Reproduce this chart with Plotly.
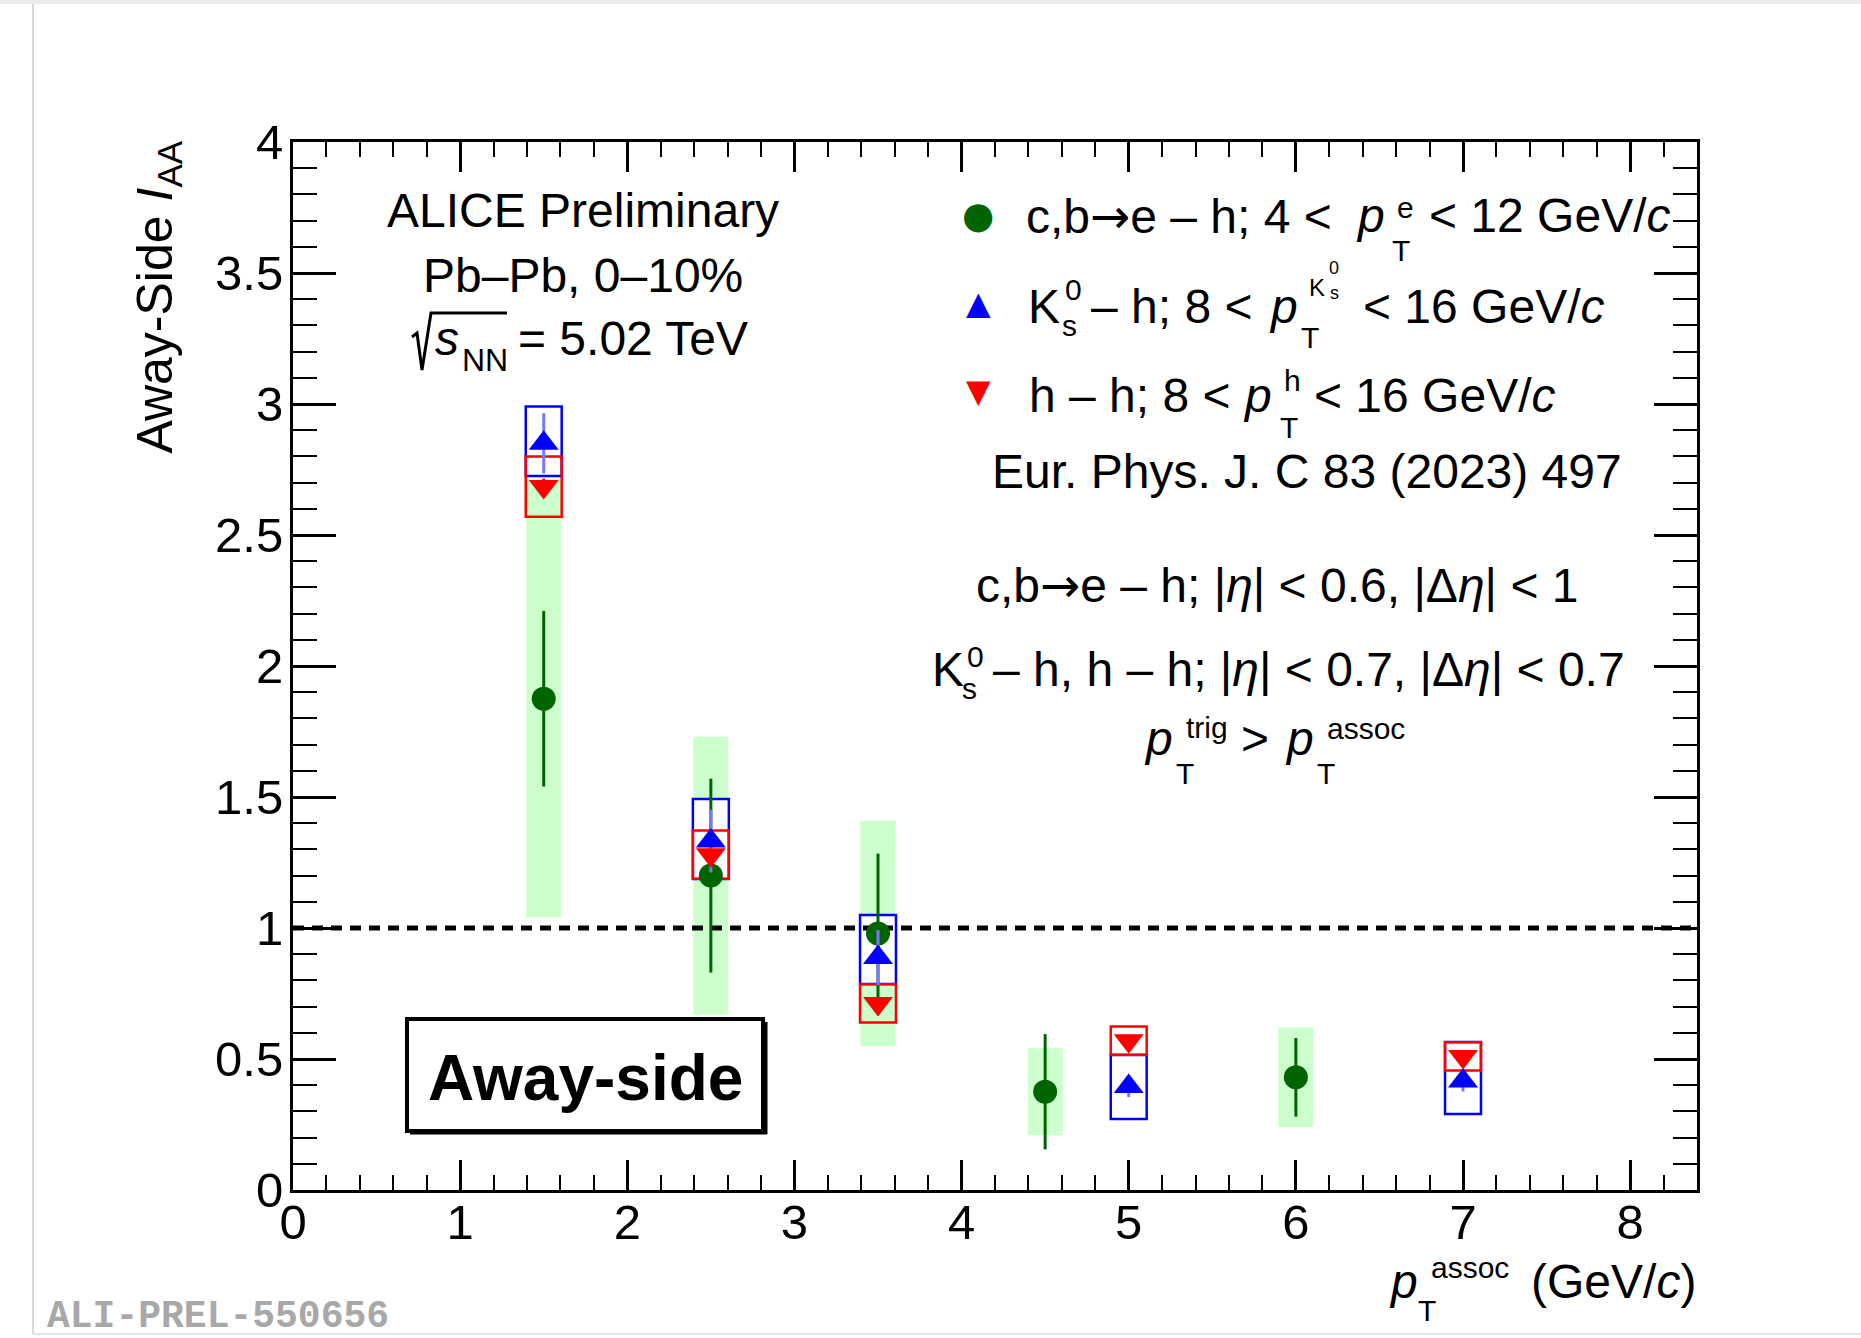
import plotly.graph_objects as go

# ---------------- data ----------------
# c,b -> e - h (heavy-flavour electrons)
x_ehf = [1.5, 2.5, 3.5, 4.5, 6.0]
y_ehf = [1.875, 1.20, 0.979, 0.375, 0.43]
stat_ehf = [0.335, 0.37, 0.305, 0.22, 0.15]
sys_ehf = [0.835, 0.53, 0.43, 0.166, 0.19]

# K0s - h
x_k0s = [1.5, 2.5, 3.5, 5.0, 7.0]
y_k0s = [2.85, 1.332, 0.887, 0.395, 0.416]
stat_k0s = [0.115, 0.12, 0.105, 0.04, 0.04]
sys_k0s_hi = [0.14, 0.16, 0.163, 0.12, 0.149]
sys_k0s_lo = [0.125, 0.145, 0.101, 0.124, 0.126]

# h - h
x_hh = [1.5, 2.5, 3.5, 5.0, 7.0]
y_hh = [2.685, 1.28, 0.712, 0.57, 0.51]
stat_hh = [0.03, 0.02, 0.02, 0.02, 0.02]
sys_hh = [0.115, 0.092, 0.073, 0.054, 0.054]

x_ticks = [0, 1, 2, 3, 4, 5, 6, 7, 8]
y_ticks = [0, 0.5, 1, 1.5, 2, 2.5, 3, 3.5, 4]
ref_line_x = [0, 8.4]
ref_line_y = [1, 1]

# ---------------- styling ----------------
FONT = "Liberation Sans, Arial, Helvetica, sans-serif"
GREEN = "#006400"
GREEN_BAND = "#ccffcc"
BLUE = "#0000ff"
RED = "#ff0000"
ARROW = '<span style="font-family:DejaVu Sans">→</span>'

W, H = 1861, 1338
L, R, T, B = 293, 1697, 142, 1190


def px(X):
    return (X - L) / (R - L)


def py(Y):
    return (B - Y) / (B - T)


fig = go.Figure()

# systematic boxes
fig.add_trace(go.Bar(
    x=x_ehf, y=[2 * s for s in sys_ehf], base=[v - s for v, s in zip(y_ehf, sys_ehf)],
    width=0.21, marker=dict(color=GREEN_BAND, line=dict(width=0)), showlegend=False, hoverinfo="skip"))
fig.add_trace(go.Bar(
    x=x_k0s, y=[h + l for h, l in zip(sys_k0s_hi, sys_k0s_lo)],
    base=[v - l for v, l in zip(y_k0s, sys_k0s_lo)],
    width=0.215, marker=dict(color="white", line=dict(color=BLUE, width=2.5)), showlegend=False, hoverinfo="skip"))
fig.add_trace(go.Bar(
    x=x_hh, y=[2 * s for s in sys_hh], base=[v - s for v, s in zip(y_hh, sys_hh)],
    width=0.215, marker=dict(color="rgba(0,0,0,0)", line=dict(color=RED, width=2.5)), showlegend=False, hoverinfo="skip"))

# reference line at 1
fig.add_trace(go.Scatter(x=ref_line_x, y=ref_line_y, mode="lines",
                         line=dict(color="black", width=5, dash="11px,8px"), showlegend=False, hoverinfo="skip"))

# points with stat errors
fig.add_trace(go.Scatter(
    x=x_ehf, y=y_ehf, mode="markers",
    marker=dict(symbol="circle", size=24, color=GREEN, line=dict(width=0)),
    error_y=dict(type="data", array=stat_ehf, color=GREEN, thickness=3, width=0), showlegend=False))
fig.add_trace(go.Scatter(
    x=x_k0s, y=y_k0s, mode="markers",
    marker=dict(symbol="triangle-up", size=26, color=BLUE, line=dict(width=0)),
    error_y=dict(type="data", array=stat_k0s, color="#7878ff", thickness=3, width=0), showlegend=False))
fig.add_trace(go.Scatter(
    x=x_hh, y=y_hh, mode="markers",
    marker=dict(symbol="triangle-down", size=26, color=RED, line=dict(width=0)),
    error_y=dict(type="data", array=stat_hh, color=RED, thickness=3, width=0), showlegend=False))

ann = []


def txt(s, X, Y, size=48, anchor="left", color="black", family=FONT, angle=0, yanchor="middle"):
    ann.append(dict(text=s, x=px(X), y=py(Y), xref="paper", yref="paper", xanchor=anchor,
                    yanchor=yanchor, showarrow=False, borderpad=0, textangle=angle,
                    font=dict(size=size, color=color, family=family)))


# legend keys (glyphs)
txt("●", 978, 215, size=37, anchor="center", color=GREEN, family="DejaVu Sans")
txt("▲", 978, 303, size=32, anchor="center", color=BLUE, family="DejaVu Sans")
txt("▼", 978, 391, size=32, anchor="center", color=RED, family="DejaVu Sans")

# legend row 1
txt("c,b" + ARROW + "e – h; 4 <", 1025, 216)
txt("<i>p</i>", 1355, 216)
txt("T", 1391, 250, size=30)
txt("e", 1396, 207, size=30)
txt("< 12 GeV/<i>c</i>", 1428, 216)
# legend row 2
txt("K", 1027, 306)
txt("0", 1064, 290, size=30)
txt("s", 1061, 325, size=30)
txt("– h; 8 <", 1090, 306)
txt("<i>p</i>", 1268, 306)
txt("T", 1300, 337, size=30)
txt("K", 1308, 287, size=24)
txt("0", 1328, 268, size=18)
txt("s", 1329, 293, size=18)
txt("< 16 GeV/<i>c</i>", 1362, 306)
# legend row 3
txt("h – h; 8 <", 1028, 395)
txt("<i>p</i>", 1242, 395)
txt("T", 1279, 427, size=30)
txt("h", 1283, 380, size=30)
txt("< 16 GeV/<i>c</i>", 1313, 395)
# reference
txt("Eur. Phys. J. C 83 (2023) 497", 991, 471)

# selection text
txt("c,b" + ARROW + "e – h; |<i>η</i>| < 0.6, |Δ<i>η</i>| < 1", 975, 585)
txt("K", 931, 669)
txt("0", 966, 656, size=30)
txt("s", 961, 688, size=30)
txt("– h, h – h; |<i>η</i>| < 0.7, |Δ<i>η</i>| < 0.7", 992, 669)
txt("<i>p</i>", 1143, 738)
txt("T", 1175, 773, size=30)
txt("trig", 1185, 727, size=30)
txt(">", 1240, 738)
txt("<i>p</i>", 1284, 738)
txt("T", 1316, 773, size=30)
txt("assoc", 1326, 728, size=30)

# ALICE block
txt("ALICE Preliminary", 583, 210, anchor="center")
txt("Pb–Pb, 0–10%", 583, 275, anchor="center")
txt("<i>s</i>", 434, 338)
txt("NN", 461, 360, size=32)
txt("= 5.02 TeV", 517, 338)

# Away-side label
txt("<b>Away-side</b>", 585, 1078, size=64, anchor="center")

# axis titles
txt("Away-Side <i>I</i><sub>AA</sub>", 158, 140, size=50, anchor="center", angle=-90, yanchor="top")
txt("<i>p</i>", 1388, 1281)
txt("T", 1417, 1310, size=30)
txt("assoc", 1430, 1267, size=30)
txt("(GeV/<i>c</i>)", 1530, 1281)

# watermark id
txt("<b>ALI-PREL-550656</b>", 46, 1316, size=38, color="#a8a8a8", family="Liberation Mono, DejaVu Sans Mono, monospace")

shapes = []
# Away-side box
shapes.append(dict(type="rect", xref="paper", yref="paper", x0=px(407), x1=px(763), y0=py(1019), y1=py(1131),
                   line=dict(color="black", width=4), fillcolor="rgba(0,0,0,0)", layer="above"))
shapes.append(dict(type="line", xref="paper", yref="paper", x0=px(766), x1=px(766), y0=py(1022), y1=py(1134),
                   line=dict(color="black", width=3), layer="above"))
shapes.append(dict(type="line", xref="paper", yref="paper", x0=px(410), x1=px(767), y0=py(1133), y1=py(1133),
                   line=dict(color="black", width=3), layer="above"))
# sqrt radical
rad = [(412, 337), (417, 333), (422, 370), (431, 313), (507, 313)]
path = "M " + " L ".join(f"{px(a):.5f},{py(b):.5f}" for a, b in rad)
shapes.append(dict(type="path", xref="paper", yref="paper", path=path,
                   line=dict(color="black", width=3), layer="above"))
# outer frame of the picture
shapes.append(dict(type="rect", xref="paper", yref="paper", x0=px(0), x1=px(W), y0=py(0), y1=py(4),
                   line=dict(width=0), fillcolor="#ebebeb", layer="above"))
shapes.append(dict(type="line", xref="paper", yref="paper", x0=px(33), x1=px(33), y0=py(4), y1=py(1334),
                   line=dict(color="#d9d9d9", width=2), layer="above"))
shapes.append(dict(type="line", xref="paper", yref="paper", x0=px(33), x1=px(W), y0=py(1334), y1=py(1334),
                   line=dict(color="#e3e3e3", width=2), layer="above"))

axis_common = dict(showgrid=False, zeroline=False, showline=True, linecolor="black", linewidth=3,
                   ticks="inside", tickcolor="black", tickwidth=2.5, mirror="allticks",
                   tickfont=dict(family=FONT, size=49, color="black"))

fig.update_layout(
    width=W, height=H, autosize=False,
    margin=dict(l=L, r=W - R, t=T, b=H - B, pad=0),
    paper_bgcolor="white", plot_bgcolor="white",
    barmode="overlay", showlegend=False,
    xaxis=dict(range=[0, 8.4], tickvals=x_ticks, ticklen=30, ticklabelstandoff=-13,
               minor=dict(dtick=0.2, ticklen=15, ticks="inside", tickcolor="black", tickwidth=2),
               **axis_common),
    yaxis=dict(range=[0, 4], tickvals=y_ticks, ticklen=43, ticklabelstandoff=-3,
               minor=dict(dtick=0.1, ticklen=24, ticks="inside", tickcolor="black", tickwidth=2),
               **axis_common),
    annotations=ann, shapes=shapes,
)

fig.write_html("out.html")
